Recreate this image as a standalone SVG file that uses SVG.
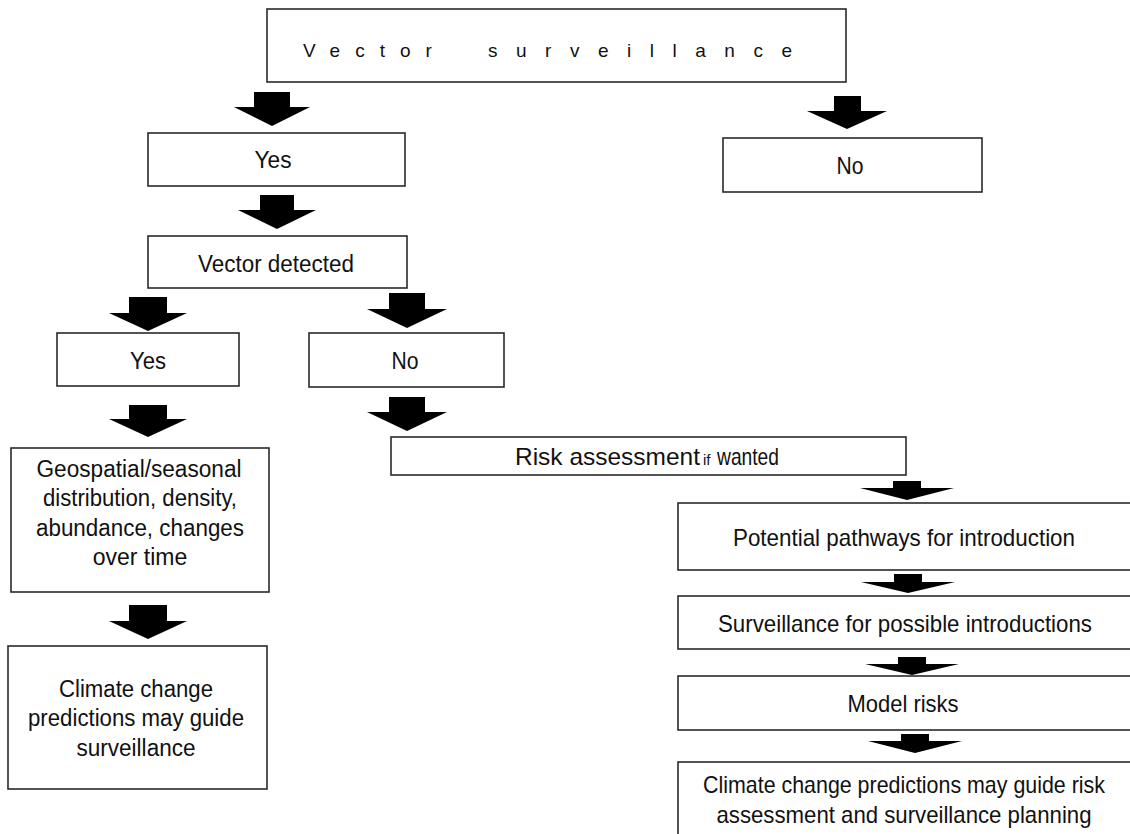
<svg xmlns="http://www.w3.org/2000/svg" width="1130" height="834" viewBox="0 0 1130 834">
<style>
.box{fill:#fff;stroke:#2a2a2a;stroke-width:1.6}
.arr{fill:#000}
text{font-family:"Liberation Sans",Arial,sans-serif;fill:#111}
.l{font-size:23px;text-anchor:middle}
.r{font-size:24px;text-anchor:middle}
</style>
<rect width="1130" height="834" fill="#fff"/>
<g id="connectors">
<polygon class="arr" points="254,92 290,92 290,107 310,107 272,126 234,107 254,107"/>
<polygon class="arr" points="834,96 861,96 861,111 887,111 847,129 807,111 834,111"/>
<polygon class="arr" points="260,195 294,195 294,210 316,210 277,229 238,210 260,210"/>
<polygon class="arr" points="129,297 167,297 167,313 187,313 148,331 109,313 129,313"/>
<polygon class="arr" points="389,293 425,293 425,309 447,309 407,328 367,309 389,309"/>
<polygon class="arr" points="129,405 167,405 167,419 187,419 148,437 109,419 129,419"/>
<polygon class="arr" points="389,397 425,397 425,412 447,412 407,431 367,412 389,412"/>
<polygon class="arr" points="129,605 167,605 167,621 187,621 148,639 109,621 129,621"/>
<polygon class="arr" points="893,481 921,481 921,488 954,488 907,500 860,488 893,488"/>
<polygon class="arr" points="894,574 922,574 922,582 955,582 908,593 861,582 894,582"/>
<polygon class="arr" points="898,657 926,657 926,664 959,664 912,675 865,664 898,664"/>
<polygon class="arr" points="901,734 929,734 929,741 962,741 915,753 868,741 901,741"/>
</g>
<g id="n-top">
<rect class="box" x="267" y="9" width="579" height="73"/>
<text x="303" y="57" font-size="19" letter-spacing="15">Vector</text>
<text x="488" y="57" font-size="19" textLength="304" lengthAdjust="spacing">surveillance</text>
</g>
<g id="n-yes1">
<rect class="box" x="148" y="133" width="257" height="53"/>
<text class="l" x="273" y="168" font-size="24" textLength="37" lengthAdjust="spacingAndGlyphs">Yes</text>
</g>
<g id="n-no1">
<rect class="box" x="723" y="138" width="259" height="54"/>
<text class="l" x="850" y="174" font-size="24" textLength="27" lengthAdjust="spacingAndGlyphs">No</text>
</g>
<g id="n-detected">
<rect class="box" x="148" y="236" width="259" height="52"/>
<text class="l" x="276" y="272" textLength="156" lengthAdjust="spacingAndGlyphs">Vector detected</text>
</g>
<g id="n-yes2">
<rect class="box" x="57" y="333" width="182" height="53"/>
<text class="l" x="148" y="369" font-size="24" textLength="36" lengthAdjust="spacingAndGlyphs">Yes</text>
</g>
<g id="n-no2">
<rect class="box" x="309" y="333" width="195" height="54"/>
<text class="l" x="405" y="369" font-size="24" textLength="27" lengthAdjust="spacingAndGlyphs">No</text>
</g>
<g id="n-geo">
<rect class="box" x="11" y="448" width="258" height="144"/>
<text class="l" x="139" y="477" textLength="205" lengthAdjust="spacingAndGlyphs">Geospatial/seasonal</text>
<text class="l" x="140" y="506" textLength="194" lengthAdjust="spacingAndGlyphs">distribution, density,</text>
<text class="l" x="140" y="536" textLength="208" lengthAdjust="spacingAndGlyphs">abundance, changes</text>
<text class="l" x="140" y="565">over time</text>
</g>
<g id="n-climate1">
<rect class="box" x="8" y="646" width="259" height="143"/>
<text class="l" x="136" y="697" textLength="154" lengthAdjust="spacingAndGlyphs">Climate change</text>
<text class="l" x="136" y="726" textLength="216" lengthAdjust="spacingAndGlyphs">predictions may guide</text>
<text class="l" x="136" y="756" textLength="119" lengthAdjust="spacingAndGlyphs">surveillance</text>
</g>
<g id="n-risk">
<rect class="box" x="391" y="437" width="515" height="38"/>
<text x="515" y="465" font-size="24" textLength="185" lengthAdjust="spacingAndGlyphs">Risk assessment</text>
<text x="703" y="465" font-size="15">if</text>
<text x="717" y="465" font-size="24" textLength="62" lengthAdjust="spacingAndGlyphs">wanted</text>
</g>
<g id="n-pathways">
<rect class="box" x="678" y="503" width="470" height="67"/>
<text class="r" x="904" y="546" font-size="25" textLength="342" lengthAdjust="spacingAndGlyphs">Potential pathways for introduction</text>
</g>
<g id="n-surv">
<rect class="box" x="678" y="596" width="470" height="53"/>
<text class="r" x="905" y="632" textLength="374" lengthAdjust="spacingAndGlyphs">Surveillance for possible introductions</text>
</g>
<g id="n-model">
<rect class="box" x="678" y="676" width="470" height="54"/>
<text class="r" x="903" y="712" font-size="25" textLength="111" lengthAdjust="spacingAndGlyphs">Model risks</text>
</g>
<g id="n-climate2">
<rect class="box" x="678" y="762" width="470" height="90"/>
<text class="r" x="904" y="793" font-size="22" textLength="402" lengthAdjust="spacingAndGlyphs">Climate change predictions may guide risk</text>
<text class="r" x="904" y="823" textLength="375" lengthAdjust="spacingAndGlyphs">assessment and surveillance planning</text>
</g>
</svg>
